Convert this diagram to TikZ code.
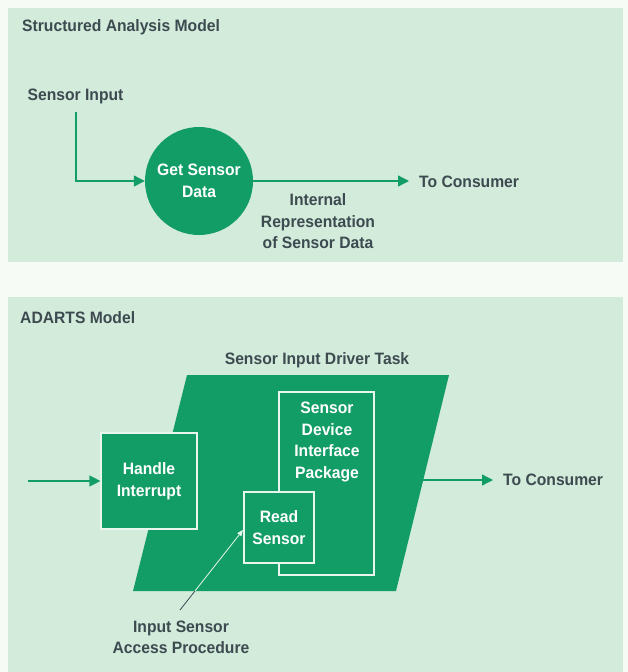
\documentclass[tikz,border=0pt]{standalone}
\usepackage{fontspec}
\setmainfont{Liberation Sans}[FakeStretch=0.95]
\usetikzlibrary{arrows.meta,calc}
\definecolor{mint}{HTML}{D2EBDB}
\definecolor{gapc}{HTML}{F6FBF5}
\definecolor{leaf}{HTML}{139D66}
\definecolor{ink}{HTML}{3D4B50}
\definecolor{rim}{HTML}{E8F6EE}
\begin{document}
\begin{tikzpicture}[x=1pt,y=-1pt,
  lbl/.style={font=\fontsize{16.5}{21.5}\selectfont\bfseries, text=ink, inner sep=0pt, align=center},
  wlbl/.style={lbl, text=white},
  flow/.style={draw=leaf, line width=1.3pt, -{Triangle[length=11pt,width=11pt]}},
  box/.style={draw=rim, fill=leaf, line width=1.2pt, inner sep=0pt}]
\useasboundingbox (0,0) rectangle (628,672);
\fill[gapc] (0,0) rectangle (628,672);
\fill[mint] (8,8) rectangle (623,262);
\fill[mint] (8,297) rectangle (623,672);

% top panel
\node[lbl, anchor=west] (t1) at (22,27) {Structured Analysis Model};
\node[lbl] (sin) at (75.5,96) {Sensor Input};
\node[circle, fill=leaf, minimum size=108pt, wlbl] (gsd) at (199,181) {Get Sensor\\Data};
\coordinate (sin1) at (76,112);
\draw[flow] (sin1) |- (gsd.west);
\coordinate (out1) at (409,181);
\draw[flow] (gsd.east) -- (out1);
\node[lbl, anchor=west] (tc1) at (419,182) {To Consumer};
\node[lbl] (irep) at (318,221.5) {Internal\\Representation\\of Sensor Data};

% bottom panel
\node[lbl, anchor=west] (t2) at (20,318) {ADARTS Model};
\node[lbl] (taskl) at (317,360) {Sensor Input Driver Task};
\coordinate (p1) at (187,375);
\coordinate (p2) at (449,375);
\coordinate (p3) at (396,591);
\coordinate (p4) at (133,591);
\fill[leaf] (p1) -- (p2) -- (p3) -- (p4) -- cycle;
\node[box, wlbl, minimum width=96pt, minimum height=96pt] (hi) at (149,481) {Handle\\Interrupt};
\node[box, minimum width=95pt, minimum height=183pt] (sdip) at (326.5,483.5) {};
\node[wlbl, anchor=north] (sdipt) at (327,402) {Sensor\\Device\\Interface\\Package};
\node[box, wlbl, minimum width=70pt, minimum height=71pt] (read) at (279,527.5) {Read\\Sensor};

\coordinate (in2) at (28,481);
\draw[flow] (in2) -- (hi.west);
\coordinate (pr) at (422.75,480);
\coordinate (out2) at (493,480);
\draw[flow] (pr) -- (out2);
\node[lbl, anchor=west] (tc2) at (503,480) {To Consumer};

\coordinate (acc) at (180,610);
\coordinate (acctip) at (243,530);
\coordinate (accx) at ($(acc)!0.2375!(acctip)$);
\draw[ink, line width=0.8pt] (acc) -- (accx);
\draw[rim, line width=0.8pt, -{Triangle[length=6pt,width=5pt]}] (accx) -- (acctip);
\node[lbl] (accl) at (181,637.5) {Input Sensor\\Access Procedure};
\end{tikzpicture}
\end{document}
